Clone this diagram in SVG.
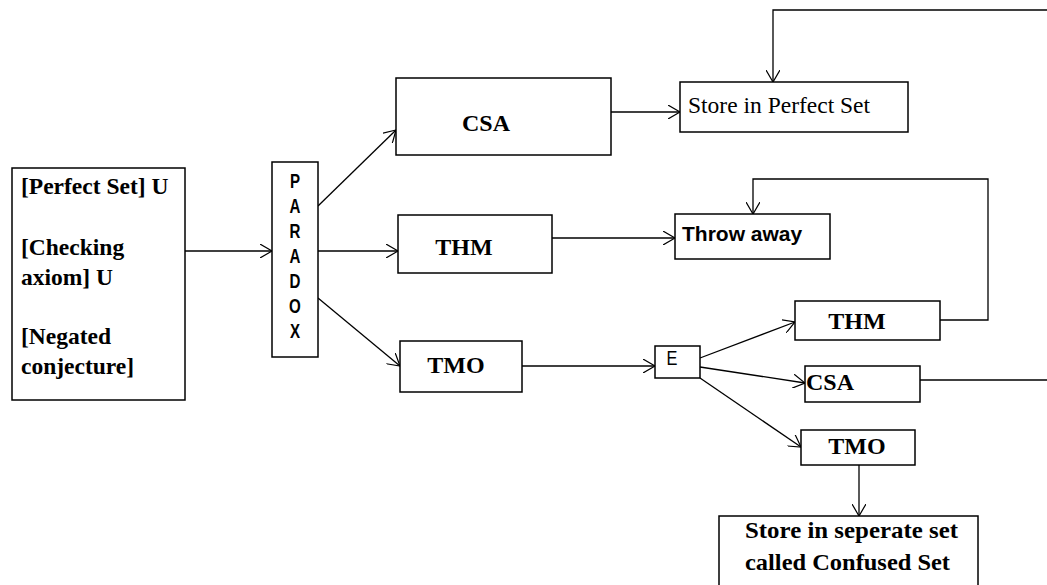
<svg xmlns="http://www.w3.org/2000/svg" width="1047" height="585" viewBox="0 0 1047 585">
<style>
.box{fill:#fff;stroke:#000;stroke-width:1.5}
.ln{fill:none;stroke:#000;stroke-width:1.3}
.b{font-family:"Liberation Serif",serif;font-weight:bold;font-size:24px;fill:#000}
.bl{font-family:"Liberation Serif",serif;font-weight:bold;font-size:23.5px;fill:#000}
.r{font-family:"Liberation Serif",serif;font-size:23.5px;fill:#000}
.s{font-family:"Liberation Sans",sans-serif;font-weight:bold;font-size:21px;fill:#000}
.e{font-family:"Liberation Sans",sans-serif;font-size:21px;fill:#000}
.sb{font-family:"Liberation Sans",sans-serif;font-weight:bold;font-size:21px;fill:#000}
</style>
<defs>
<marker id="a" markerWidth="14" markerHeight="14" refX="12" refY="7" orient="auto" markerUnits="userSpaceOnUse">
<path d="M0,0 L12,7 L0,14" fill="none" stroke="#000" stroke-width="1.2"/>
</marker>
</defs>
<rect width="1047" height="585" fill="#fff"/>
<g id="connectors">
<line class="ln" x1="185" y1="251" x2="272" y2="251" marker-end="url(#a)"/>
<line class="ln" x1="318" y1="206" x2="396" y2="130" marker-end="url(#a)"/>
<line class="ln" x1="318" y1="251" x2="398" y2="251" marker-end="url(#a)"/>
<line class="ln" x1="318" y1="298" x2="400" y2="366" marker-end="url(#a)"/>
<line class="ln" x1="611" y1="112" x2="680" y2="112" marker-end="url(#a)"/>
<polyline class="ln" points="1047,10 773,10 773,82" marker-end="url(#a)"/>
<line class="ln" x1="552" y1="238" x2="675" y2="238" marker-end="url(#a)"/>
<polyline class="ln" points="940,320 988,320 988,179 753,179 753,214" marker-end="url(#a)"/>
<line class="ln" x1="522" y1="366" x2="655" y2="366" marker-end="url(#a)"/>
<line class="ln" x1="700" y1="358" x2="795" y2="322" marker-end="url(#a)"/>
<line class="ln" x1="700" y1="367" x2="805" y2="383" marker-end="url(#a)"/>
<line class="ln" x1="700" y1="378" x2="801" y2="447" marker-end="url(#a)"/>
<line class="ln" x1="920" y1="380" x2="1047" y2="380"/>
<line class="ln" x1="859" y1="465" x2="859" y2="516" marker-end="url(#a)"/>
</g>
<g id="input">
<rect class="box" x="12" y="168" width="173" height="232"/>
<text class="bl" x="21" y="194">[Perfect Set] U</text>
<text class="bl" x="21" y="255">[Checking</text>
<text class="bl" x="21" y="285">axiom] U</text>
<text class="bl" x="21" y="344">[Negated</text>
<text class="bl" x="21" y="374">conjecture]</text>
</g>
<g id="paradox">
<rect class="box" x="272" y="162" width="46" height="195"/>
<text class="s" text-anchor="middle" transform="translate(295 0) scale(0.72 1) translate(-295 0)">
<tspan x="295" y="188">P</tspan><tspan x="295" y="213">A</tspan><tspan x="295" y="238">R</tspan><tspan x="295" y="263">A</tspan><tspan x="295" y="288">D</tspan><tspan x="295" y="313">O</tspan><tspan x="295" y="338">X</tspan>
</text>
</g>
<g id="csa1">
<rect class="box" x="396" y="78" width="215" height="77"/>
<text class="b" x="486" y="131" text-anchor="middle">CSA</text>
</g>
<g id="perfect">
<rect class="box" x="680" y="82" width="228" height="50"/>
<text class="r" x="688" y="113">Store in Perfect Set</text>
</g>
<g id="thm1">
<rect class="box" x="398" y="215" width="154" height="58"/>
<text class="b" x="464" y="255" text-anchor="middle">THM</text>
</g>
<g id="throw">
<rect class="box" x="675" y="214" width="155" height="45"/>
<text class="sb" x="682" y="241">Throw away</text>
</g>
<g id="tmo1">
<rect class="box" x="400" y="341" width="122" height="51"/>
<text class="b" x="456" y="373" text-anchor="middle">TMO</text>
</g>
<g id="e">
<rect class="box" x="655" y="346" width="45" height="32"/>
<text class="e" x="672" y="365" text-anchor="middle" transform="translate(672 0) scale(0.78 1) translate(-672 0)">E</text>
</g>
<g id="thm2">
<rect class="box" x="795" y="301" width="145" height="39"/>
<text class="b" x="857" y="329" text-anchor="middle">THM</text>
</g>
<g id="csa2">
<rect class="box" x="805" y="366" width="115" height="36"/>
<text class="b" x="806" y="390">CSA</text>
</g>
<g id="tmo2">
<rect class="box" x="801" y="430" width="114" height="35"/>
<text class="b" x="857" y="454" text-anchor="middle">TMO</text>
</g>
<g id="confused">
<rect class="box" x="719" y="516" width="259" height="72"/>
<text class="b" x="745" y="538" textLength="213" lengthAdjust="spacingAndGlyphs">Store in seperate set</text>
<text class="b" x="745" y="570" textLength="205" lengthAdjust="spacingAndGlyphs">called Confused Set</text>
</g>
</svg>
